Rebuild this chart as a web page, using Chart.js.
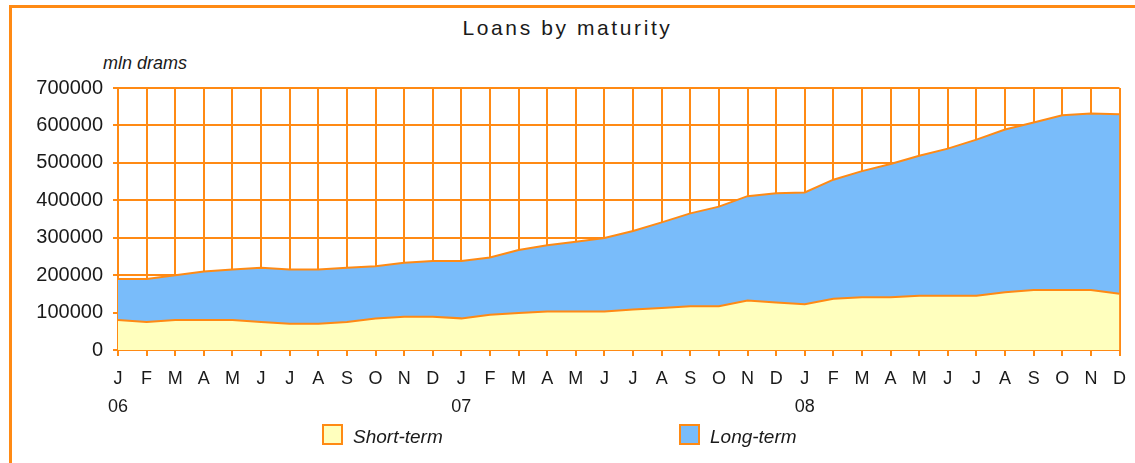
<!DOCTYPE html>
<html lang="en">
<head>
    <meta charset="UTF-8">
    <title>Loans by maturity</title>
    <script src="https://cdn.jsdelivr.net/npm/chart.js"></script>
    <style>
        body {
            margin: 0;
            background: #ffffff;
            font-family: 'Liberation Sans', Arial, sans-serif;
            color: #1a1a1a;
            overflow: hidden;
        }
        .frame {
            position: absolute;
            left: 9px;
            top: 5px;
            width: 1200px;
            height: 500px;
            border: 3px solid #ff8a14;
            box-sizing: border-box;
        }
        .title {
            position: absolute;
            left: 0;
            width: 1135px;
            top: 16px;
            text-align: center;
            font-size: 21px;
            letter-spacing: 2.6px;
        }
        .unit {
            position: absolute;
            left: 103px;
            top: 53px;
            font-size: 18px;
            font-style: italic;
        }
        .chart-box {
            position: absolute;
            left: 0;
            top: 0;
            width: 1135px;
            height: 463px;
        }
        .legend-item {
            position: absolute;
            top: 426px;
            display: flex;
            align-items: center;
            font-size: 19px;
            font-style: italic;
        }
        .legend-item span.box {
            width: 21px;
            height: 21px;
            border: 2px solid #ff8a14;
            box-sizing: border-box;
            margin-right: 10px;
            margin-top: -6px;
        }
    </style>
</head>
<body>
<div class="frame"></div>
<div class="title">Loans by maturity</div>
<div class="unit">mln drams</div>
<div class="chart-box"><canvas id="loansChart"></canvas></div>
<div class="legend-item" style="left:322px"><span class="box" style="background:#ffffbe"></span>Short-term</div>
<div class="legend-item" style="left:679px"><span class="box" style="background:#79bcfa"></span>Long-term</div>

<script>
    // month labels, year under each January
    const monthLabels = [
        ['J', '06'], 'F', 'M', 'A', 'M', 'J', 'J', 'A', 'S', 'O', 'N', 'D',
        ['J', '07'], 'F', 'M', 'A', 'M', 'J', 'J', 'A', 'S', 'O', 'N', 'D',
        ['J', '08'], 'F', 'M', 'A', 'M', 'J', 'J', 'A', 'S', 'O', 'N', 'D'
    ];
    const shortTerm = [
        80000, 75000, 80000, 80000, 80000, 75000, 70000, 70000, 75000, 84000, 89000, 89000,
        84500, 94000, 99000, 103000, 103000, 103000, 108000, 112000, 117000, 117000, 132000, 127000,
        122000, 137000, 141000, 141000, 145000, 145000, 145000, 154000, 160000, 160000, 160000, 150000
    ];
    const longTerm = [
        110000, 115000, 120000, 130000, 135000, 145000, 145000, 145000, 145000, 140000, 144000, 149000,
        153500, 153000, 168000, 177000, 186000, 196000, 210000, 229000, 248000, 266000, 279000, 292000,
        299000, 318000, 337000, 356000, 374000, 393000, 417000, 435000, 448000, 467000, 472000, 480000
    ];
    const yTicks = [0, 100000, 200000, 300000, 400000, 500000, 600000, 700000];

    const orange = '#ff8a14';

    new Chart(document.getElementById('loansChart'), {
        type: 'line',
        data: {
            labels: monthLabels,
            datasets: [{
                label: 'Short-term',
                data: shortTerm,
                backgroundColor: '#ffffbe',
                borderColor: orange,
                borderWidth: 2,
                fill: 'origin',
                pointRadius: 0,
                tension: 0
            }, {
                label: 'Long-term',
                data: longTerm,
                backgroundColor: '#79bcfa',
                borderColor: orange,
                borderWidth: 2,
                fill: '-1',
                pointRadius: 0,
                tension: 0
            }]
        },
        options: {
            responsive: true,
            maintainAspectRatio: false,
            animation: false,
            layout: {
                padding: {left: 0, top: 88, right: 15, bottom: 0}
            },
            plugins: {
                legend: {display: false},
                tooltip: {enabled: false}
            },
            scales: {
                x: {
                    grid: {color: orange, lineWidth: 2, tickLength: 6},
                    border: {color: orange, width: 2},
                    ticks: {
                        autoSkip: false,
                        maxRotation: 0,
                        padding: 9,
                        color: '#1a1a1a',
                        font: {family: 'Liberation Sans', size: 18, lineHeight: 1.55}
                    },
                    afterFit: scale => { scale.height = 113; }
                },
                y: {
                    stacked: true,
                    min: 0,
                    max: 700000,
                    grid: {color: orange, lineWidth: 2, tickLength: 5},
                    border: {color: orange, width: 2},
                    afterBuildTicks: scale => { scale.ticks = yTicks.map(v => ({value: v})); },
                    ticks: {
                        padding: 10,
                        color: '#1a1a1a',
                        font: {family: 'Liberation Sans', size: 20},
                        callback: v => String(v)
                    },
                    afterFit: scale => { scale.width = 118; }
                }
            }
        }
    });
</script>
</body>
</html>
